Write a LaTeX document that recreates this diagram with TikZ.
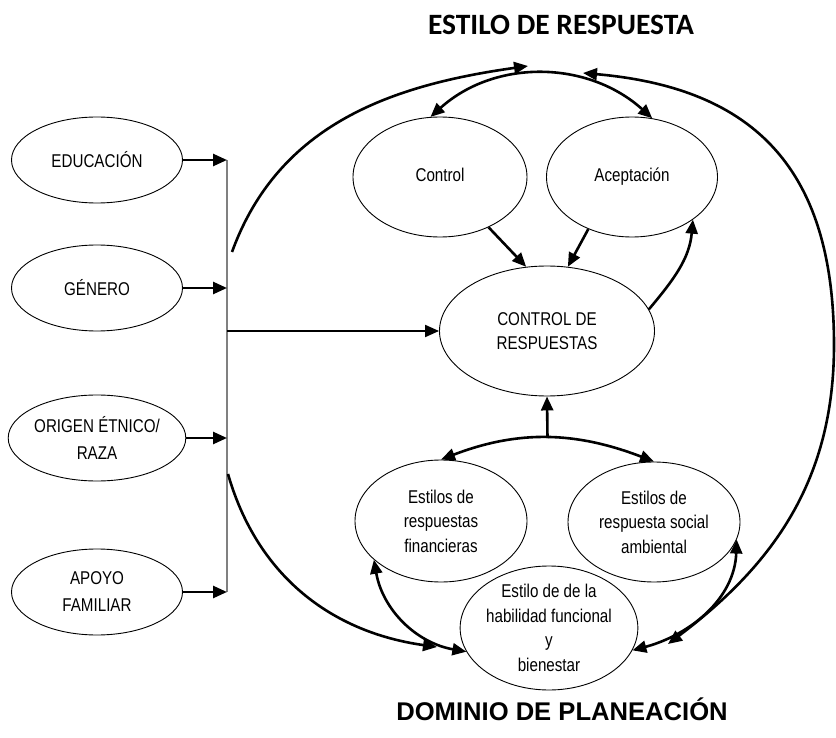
\documentclass[tikz,border=0pt]{standalone}
\usepackage{fontspec}
\setmainfont{Liberation Sans}[FakeStretch=0.82]
\newfontfamily\titlefont{Carlito}
\newfontfamily\bottomfont{Liberation Sans}
\usetikzlibrary{shapes.geometric, arrows.meta, positioning}

\begin{document}
\begin{tikzpicture}[
    x=1pt, y=1pt,
    factor/.style={draw, ellipse, line width=0.9pt, minimum width=171pt, minimum height=86pt, inner sep=0pt, align=center, font=\fontsize{18.5}{27}\selectfont},
    estilo/.style={draw, ellipse, line width=0.9pt, minimum width=172pt, minimum height=121pt, inner sep=0pt, align=center, font=\fontsize{18.5}{24.5}\selectfont},
    arrow/.style={-{Triangle[length=14pt, width=12pt]}, line width=2.6pt},
    dblarrow/.style={{Triangle[length=14pt, width=12pt]}-{Triangle[length=14pt, width=12pt]}, line width=2.6pt},
    bus/.style={line width=1.2pt, gray}
]
    \useasboundingbox (0,0) rectangle (836,-738);

    % Titles
    \node[font=\titlefont\bfseries\fontsize{29.5}{31}\selectfont] (titletop) at (561,-25) {ESTILO DE RESPUESTA};
    \node[font=\bottomfont\bfseries\fontsize{25.6}{28}\selectfont] (titlebot) at (562,-709) {DOMINIO DE PLANEACIÓN};

    % Nodes - left column
    \node[factor] (edu) at (97,-160) {EDUCACIÓN};
    \node[factor] (gen) at (97,-288) {GÉNERO};
    \node[factor] (ori) at (97,-438) {ORIGEN ÉTNICO/\\RAZA};
    \node[factor] (apo) at (97,-592) {APOYO\\FAMILIAR};

    % Nodes - response styles
    \node[estilo, minimum width=174pt, minimum height=120pt] (ctl) at (440,-177) {\strut Control};
    \node[estilo, minimum width=171pt, minimum height=120pt] (acc) at (632,-177) {\strut Aceptación};
    \node[estilo, minimum width=215pt, minimum height=130pt, font=\fontsize{18.5}{23.5}\selectfont] (resp) at (547,-331) {CONTROL DE\\RESPUESTAS};

    % Nodes - planning domain
    \node[estilo, minimum height=122pt] (fin) at (441,-521) {Estilos de\\respuestas\\financieras};
    \node[estilo, minimum height=120pt] (soc) at (654,-522) {Estilos de\\respuesta social\\ambiental};
    \node[estilo, minimum width=171pt, minimum height=124pt] (hab) at (549,-628) {Estilo de de la\\habilidad funcional\\y\\bienestar};

    % Bus and free ends of the big arcs
    \coordinate (bustop) at (227,-160);
    \coordinate (busbot) at (227,-592);
    \coordinate (arcL) at (232,-252);
    \coordinate (arcLend) at (528,-66);
    \coordinate (arcLL) at (228,-474);
    \coordinate (arcLLend) at (437,-647);
    \coordinate (arcR) at (583,-73);
    \coordinate (arcRmid) at (834,-345);
    \coordinate (arcRend) at (668,-644);

    % Arrows - left factors
    \draw[bus] (bustop) -- (busbot);
    \foreach \f in {edu, gen, ori, apo}
        \draw[arrow] (\f.east) -- (\f.east -| bustop);
    \draw[arrow, line width=2pt] (resp.west -| bustop) -- (resp.west);

    % Arrows - response styles
    \draw[arrow] (ctl.-46) -- (resp.108);
    \draw[arrow] (acc.-130) -- (resp.72);
    \draw[arrow] (resp.12) to[out=50, in=-95] (acc.-35);
    \draw[dblarrow] (ctl.99) to[out=42, in=138] (acc.71);

    % Arrows - planning domain
    \draw[dblarrow] (fin.north) to[out=21, in=159] node[pos=0.5, coordinate] (split) {} (soc.north);
    \draw[arrow] (split) -- (resp.south);
    \draw[dblarrow] (fin.210) to[out=-80, in=170] (hab.196);
    \draw[dblarrow] (soc.-12) to[out=-92, in=15] (hab.-15);

    % Big arcs
    \draw[arrow] (arcL) to[out=70, in=-172] (arcLend);
    \draw[arrow] (arcLL) to[out=-74, in=172] (arcLLend);
    \draw[dblarrow] (arcR) to[out=-5, in=90, looseness=1.2] (arcRmid) to[out=-90, in=37] (arcRend);
\end{tikzpicture}
\end{document}
